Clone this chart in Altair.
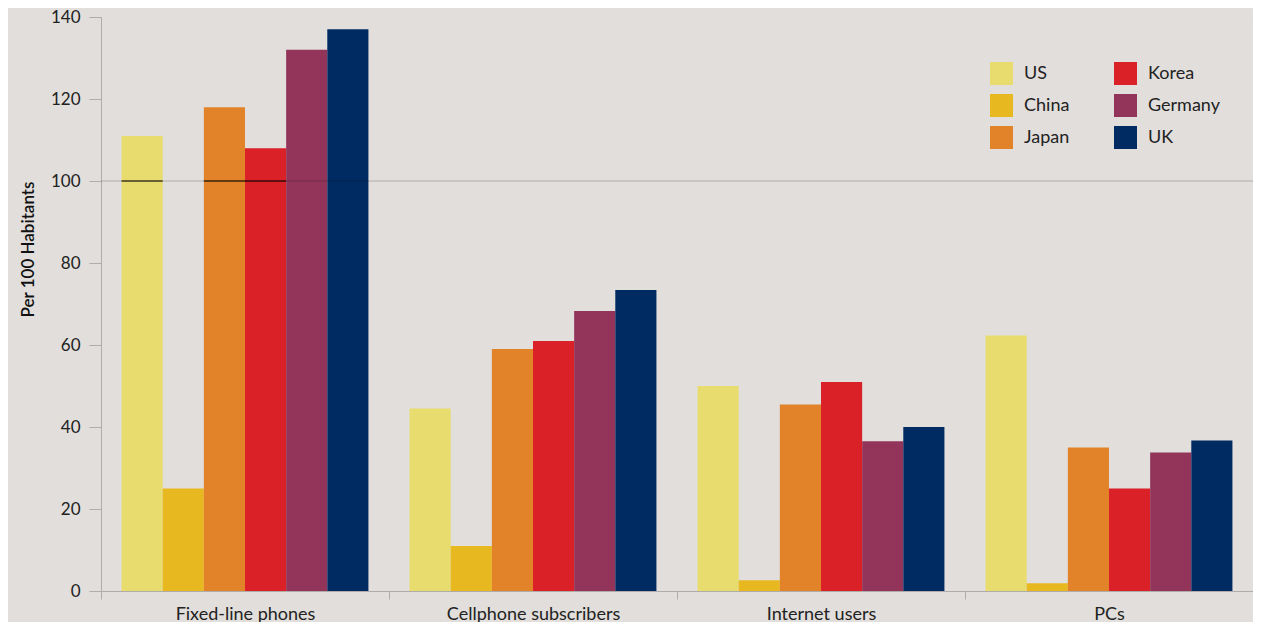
import altair as alt
import pandas as pd

categories = ["Fixed-line phones", "Cellphone subscribers", "Internet users", "PCs"]
countries = ["US", "China", "Japan", "Korea", "Germany", "UK"]

us = [111, 44.5, 50, 62.3]
china = [25, 11, 2.6, 1.9]
japan = [118, 59, 45.5, 35]
korea = [108, 61, 51, 25]
germany = [132, 68.3, 36.5, 33.8]
uk = [137, 73.4, 40, 36.7]

bar_colors = ["#e8dc6e", "#e8b820", "#e2832a", "#da2128", "#93355a", "#002b62"]

reference_value = 100
marked_countries = ["US", "Japan", "Korea"]

series = dict(zip(countries, [us, china, japan, korea, germany, uk]))
rows = []
for c in countries:
    for cat, v in zip(categories, series[c]):
        rows.append({"category": cat, "country": c, "value": v})
df = pd.DataFrame(rows)

FONT = "Lato"
TXT = "#222222"
AX = "#b0aca9"

x_enc = alt.X(
    "category:N",
    sort=categories,
    scale=alt.Scale(domain=categories, paddingInner=0, paddingOuter=0),
    axis=alt.Axis(
        title=None, labelAngle=0, tickBand="extent", tickSize=8, tickColor=AX,
        domainColor=AX, labelFontSize=18, labelColor=TXT, labelPadding=6, labelFont=FONT,
    ),
)
xoff_enc = alt.XOffset(
    "country:N",
    sort=countries,
    scale=alt.Scale(domain=countries, paddingInner=0, paddingOuter=0.5),
)
y_scale = alt.Scale(domain=[0, 140], nice=False)

bars = alt.Chart(df).mark_bar().encode(
    x=x_enc,
    xOffset=xoff_enc,
    y=alt.Y(
        "value:Q",
        scale=y_scale,
        axis=alt.Axis(
            title="Per 100 Habitants", values=list(range(0, 141, 20)), grid=False,
            tickSize=12, tickColor=AX, domainColor=AX, labelFontSize=17, labelColor=TXT,
            labelPadding=9, labelFont=FONT, titleFont=FONT, titleFontSize=17,
            titleFontWeight=600, titleColor="#111111", titlePadding=13, titleY=232,
        ),
    ),
    color=alt.Color(
        "country:N",
        scale=alt.Scale(domain=countries, range=bar_colors),
        legend=alt.Legend(
            title=None, orient="none", legendX=889, legendY=45, columns=2,
            symbolType="square", symbolSize=529, symbolStrokeWidth=0, symbolOpacity=1,
            labelFontSize=18, labelColor=TXT, labelFont=FONT, labelOffset=11,
            rowPadding=9, columnPadding=44, padding=0,
        ),
    ),
)

ref = alt.Chart(pd.DataFrame({"y": [reference_value]})).mark_rule(
    color="#000000", opacity=0.22, strokeWidth=1
).encode(y=alt.Y("y:Q", scale=y_scale))

seg_df = pd.DataFrame({
    "category": [categories[0]] * len(marked_countries),
    "country": marked_countries,
    "lo": [reference_value - 0.12] * len(marked_countries),
    "hi": [reference_value + 0.12] * len(marked_countries),
})
segs = alt.Chart(seg_df).mark_bar(color="#000000").encode(
    x=alt.X("category:N", sort=categories),
    xOffset=alt.XOffset("country:N", sort=countries),
    y=alt.Y("lo:Q", scale=y_scale),
    y2="hi:Q",
)

chart = alt.layer(bars, ref, segs).properties(
    width=1152, height=574,
    autosize=alt.AutoSizeParams(type="none"),
    padding={"left": 93, "top": 9, "right": 0, "bottom": 31},
    background="#e1dedb",
).configure_view(stroke=None).configure(font=FONT)

chart.save("out.html", embed_options={"renderer": "svg", "actions": False})
